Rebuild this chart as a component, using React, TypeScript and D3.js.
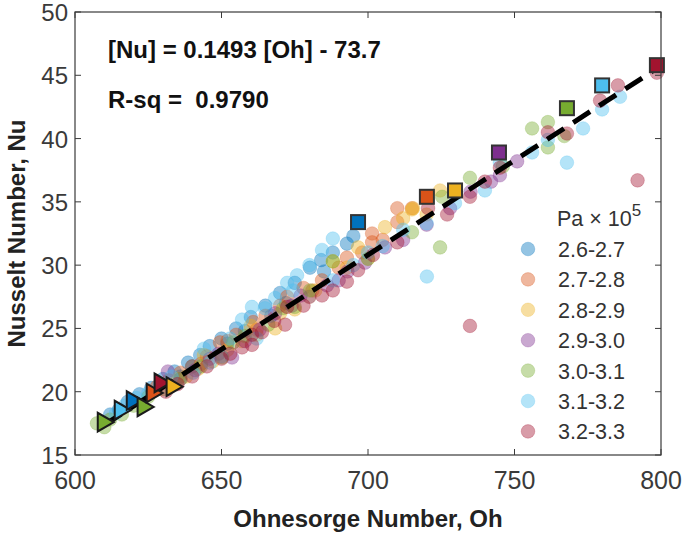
import React from 'react';
import * as d3 from 'd3';

const groupLabels = ['2.6-2.7', '2.7-2.8', '2.8-2.9', '2.9-3.0', '3.0-3.1', '3.1-3.2', '3.2-3.3'];
const groupColors = ['#0072BD', '#D95319', '#EDB120', '#7E2F8E', '#77AC30', '#4DBEEE', '#A2142F'];

// [Oh, Nu] circles per pressure group
const pts26: [number, number][] = [
  [612, 18.2], [615, 18.6], [618, 19.2], [622, 19.8], [626, 20.3], [630, 21.0], [634, 21.6], [636, 21.2],
  [638.6, 22.3], [642.7, 22.9], [646, 23.6], [650, 24.2], [655, 25.0], [658, 24.8], [660, 25.9], [665, 26.8],
  [670, 27.8], [672, 27.0], [675, 28.6], [680.2, 29.8], [684, 30.4], [685, 29.5], [688, 31.0], [692.8, 31.7], [695, 32.3],
  [640, 22.0], [652, 23.8], [667, 26.0],
];
const pts27: [number, number][] = [
  [628, 20.4], [632, 20.9], [636, 21.5], [640, 22.0], [643, 22.2], [645, 22.8], [649.5, 23.9], [652, 24.0],
  [655, 24.5], [660.8, 25.5], [665, 26.0], [670, 26.8], [672.4, 27.5], [678, 28.2], [684.3, 28.8], [690, 29.8],
  [692.8, 30.6], [698, 31.0], [701.4, 31.8], [701.4, 32.5], [705, 32.0], [710, 33.4], [710, 34.5], [715, 34.5],
  [662, 24.9], [681, 28.0],
];
const pts28: [number, number][] = [
  [635, 21.0], [638, 21.2], [642, 21.8], [647, 22.4], [652, 23.3], [657, 24.0], [660, 25.2], [662, 24.5],
  [668.3, 25.0], [675, 26.5], [680, 27.5], [682, 28.0], [688, 30.3], [692.8, 29.8], [696.6, 31.4], [700, 30.5],
  [705.8, 33.0], [712, 33.7], [715, 34.4], [715.4, 34.5], [720, 34.0], [724.6, 35.9], [644, 22.9], [670, 26.2],
];
const pts29: [number, number][] = [
  [631.7, 21.6], [636, 21.0], [641, 21.7], [646, 22.6], [653.6, 22.7], [658, 24.0], [663, 24.9], [668.3, 26.2],
  [674, 26.8], [680, 27.5], [686, 28.4], [690, 28.8], [693, 29.5], [699, 30.2], [705.8, 31.4], [712, 32.0],
  [720, 33.2], [728, 34.5], [735, 35.8], [742, 36.6], [745, 37.1], [750.9, 38.2], [649, 23.0], [677, 27.6],
];
const pts30: [number, number][] = [
  [607.5, 17.5], [610, 17.2], [612, 17.8], [616, 18.2], [620, 18.9], [625, 19.6], [630, 20.2], [636, 21.0],
  [643, 22.0], [650.2, 22.7], [658, 24.4], [666, 25.3], [675, 26.7], [680.2, 28.0], [688, 30.3], [700, 30.5],
  [715, 32.6], [724.6, 31.4], [725.3, 35.4], [734.8, 36.9], [746, 37.8], [756, 40.8], [761.4, 41.3], [761.4, 39.3], [767, 40.2],
  [654, 23.9], [671, 26.6],
];
const pts31: [number, number][] = [
  [614, 18.3], [617, 18.9], [621, 19.5], [625, 19.9], [629, 20.6], [633, 21.2], [640.3, 21.5], [646.1, 22.3],
  [650, 22.8], [652.9, 24.2], [657, 25.7], [660.4, 26.7], [662, 24.2], [664.8, 26.6], [668.3, 27.4], [672.4, 28.6],
  [674.4, 28.0], [675.8, 29.2], [684.3, 31.2], [688, 32.1], [688, 28.8], [695, 30.0], [700, 31.0], [705, 31.5],
  [712, 32.8], [720.1, 29.1], [720, 33.3], [729.7, 34.9], [739.9, 35.9], [745, 38.1], [756, 38.9], [761.4, 39.9],
  [767.9, 38.1], [773.4, 40.8], [779.9, 42.3], [786, 43.3], [644, 23.4], [680, 30.0],
];
const pts32: [number, number][] = [
  [631, 20.0], [635, 20.6], [640, 21.2], [645, 22.0], [650, 22.6], [657, 23.5], [660.4, 23.7], [660.4, 24.5],
  [663.8, 24.7], [668, 25.6], [671.7, 25.3], [672.4, 26.7], [678, 26.8], [684.3, 27.6], [688, 28.0], [692.8, 28.7],
  [696.6, 29.6], [701.7, 30.8], [710, 31.8], [720.5, 34.5], [727, 34.0], [734.8, 35.4], [734.8, 25.2], [739.9, 36.6],
  [745, 37.7], [761.4, 40.5], [767.9, 40.4], [779.2, 43.0], [785.3, 44.2], [792, 36.7], [798.6, 45.2], [653, 23.0],
];
const groupPoints = [pts26, pts27, pts28, pts29, pts30, pts31, pts32];

// maximum (square) per group
const squareOh = [696.6, 720.1, 729.7, 744.7, 767.9, 779.9, 798.6];
const squareNu = [33.4, 35.4, 35.9, 38.9, 42.4, 44.2, 45.8];

// minimum (triangle) markers
const triOh = [609.6, 615.4, 619.5, 623.2, 626.3, 629.0, 633.1];
const triNu = [17.6, 18.55, 19.3, 18.8, 19.9, 20.7, 20.4];
const triGroup = [4, 5, 0, 4, 1, 6, 2];

const xTicks = [600, 650, 700, 750, 800];
const yTicks = [15, 20, 25, 30, 35, 40, 45, 50];
const fitSlope = 0.1493;
const fitIntercept = -73.7;
const fitRange = [610, 797];

const W = 685, H = 539;
const M = { left: 75, right: 661, top: 12, bottom: 455 };
const FONT = '"Liberation Sans", Arial, Helvetica, sans-serif';

export default function App() {
  const x = d3.scaleLinear().domain([600, 800]).range([M.left, M.right]);
  const y = d3.scaleLinear().domain([15, 50]).range([M.bottom, M.top]);
  const line = d3.line<number>().x(d => x(d)).y(d => y(fitSlope * d + fitIntercept));
  const triPath = d3.symbol().type(d3.symbolTriangle).size(150)() as string;
  const tick = 6;
  const axisColor = '#3a3a3a';

  return (
    <svg width={W} height={H} style={{ position: 'absolute', left: 0, top: 0, background: '#fff' }} fontFamily={FONT}>
      {groupPoints.map((pts, g) => (
        <g key={g}>
          {pts.map((p, i) => (
            <circle key={i} cx={x(p[0])} cy={y(p[1])} r={6.8} fill={groupColors[g]} fillOpacity={0.42}
              stroke={groupColors[g]} strokeOpacity={0.25} strokeWidth={1} />
          ))}
        </g>
      ))}
      <path d={line(fitRange) as string} stroke="#000" strokeWidth={5} strokeDasharray="20 11" fill="none" />
      {triOh.map((o, i) => (
        <path key={i} d={triPath} transform={`translate(${x(o)},${y(triNu[i])}) rotate(90)`}
          fill={groupColors[triGroup[i]]} stroke="#1a1a1a" strokeWidth={2} />
      ))}
      {squareOh.map((o, i) => (
        <rect key={i} x={x(o) - 7} y={y(squareNu[i]) - 7} width={14} height={14}
          fill={groupColors[i]} stroke="#333" strokeWidth={2} />
      ))}
      <rect x={M.left} y={M.top} width={M.right - M.left} height={M.bottom - M.top} fill="none" stroke={axisColor} strokeWidth={1.2} />
      {xTicks.map(t => (
        <g key={t}>
          <line x1={x(t)} x2={x(t)} y1={M.bottom} y2={M.bottom - tick} stroke={axisColor} />
          <line x1={x(t)} x2={x(t)} y1={M.top} y2={M.top + tick} stroke={axisColor} />
          <text x={x(t)} y={M.bottom + 34} textAnchor="middle" fontSize={25} fill={axisColor}>{t}</text>
        </g>
      ))}
      {yTicks.map(t => (
        <g key={t}>
          <line x1={M.left} x2={M.left + tick} y1={y(t)} y2={y(t)} stroke={axisColor} />
          <line x1={M.right} x2={M.right - tick} y1={y(t)} y2={y(t)} stroke={axisColor} />
          <text x={M.left - 7} y={y(t) + 9} textAnchor="end" fontSize={24} fill={axisColor}>{t}</text>
        </g>
      ))}
      <text x={(M.left + M.right) / 2} y={527} textAnchor="middle" fontSize={24} fontWeight="bold" fill="#222">Ohnesorge Number, Oh</text>
      <text transform={`translate(25,${(M.top + M.bottom) / 2}) rotate(-90)`} textAnchor="middle" fontSize={24} fontWeight="bold" fill="#222">Nusselt Number, Nu</text>
      <text x={108} y={58} fontSize={24} fontWeight="bold" fill="#111">[Nu] = 0.1493 [Oh] - 73.7</text>
      <text x={108} y={108} fontSize={24} fontWeight="bold" fill="#111" style={{ whiteSpace: 'pre' }}>R-sq =  0.9790</text>
      <text x={557} y={226} fontSize={21.5} fill="#333">Pa × 10<tspan dy={-10} fontSize={17}>5</tspan></text>
      {groupLabels.map((l, i) => (
        <g key={l}>
          <circle cx={528} cy={249 + i * 30.4} r={6.8} fill={groupColors[i]} fillOpacity={0.42} stroke={groupColors[i]} strokeOpacity={0.25} />
          <text x={558} y={257 + i * 30.4} fontSize={21.5} fill="#333">{l}</text>
        </g>
      ))}
    </svg>
  );
}
